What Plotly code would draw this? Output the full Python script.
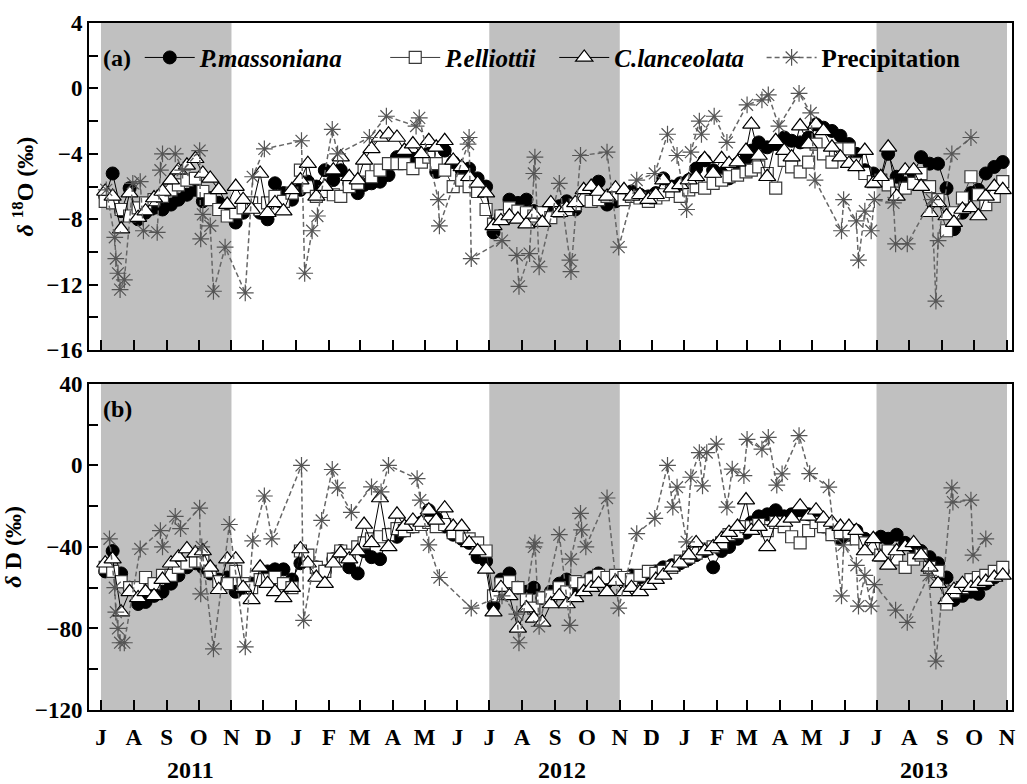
import plotly.graph_objects as go

# ---------------- data ----------------
tree_dates = [
    "2011-07-05","2011-07-12","2011-07-20","2011-07-28","2011-08-05","2011-08-12","2011-08-20","2011-08-28",
    "2011-09-05","2011-09-12","2011-09-20","2011-09-28","2011-10-05","2011-10-12","2011-10-20","2011-10-28",
    "2011-11-05","2011-11-12","2011-11-20","2011-11-28","2011-12-05","2011-12-12","2011-12-20","2011-12-28",
    "2012-01-05","2012-01-12","2012-01-20","2012-01-28","2012-02-05","2012-02-12","2012-02-20","2012-02-28",
    "2012-03-05","2012-03-12","2012-03-20","2012-03-28","2012-04-05","2012-04-12","2012-04-20","2012-04-28",
    "2012-05-05","2012-05-12","2012-05-20","2012-05-28","2012-06-05","2012-06-12","2012-06-20","2012-06-28",
    "2012-07-05","2012-07-12","2012-07-20","2012-07-28","2012-08-05","2012-08-12","2012-08-20","2012-08-28",
    "2012-09-05","2012-09-12","2012-09-20","2012-09-28","2012-10-05","2012-10-12","2012-10-20","2012-10-28",
    "2012-11-05","2012-11-12","2012-11-20","2012-11-28","2012-12-05","2012-12-12","2012-12-20","2012-12-28",
    "2013-01-05","2013-01-12","2013-01-20","2013-01-28","2013-02-05","2013-02-12","2013-02-20","2013-02-28",
    "2013-03-05","2013-03-12","2013-03-20","2013-03-28","2013-04-05","2013-04-12","2013-04-20","2013-04-28",
    "2013-05-05","2013-05-12","2013-05-20","2013-05-28","2013-06-05","2013-06-12","2013-06-20","2013-06-28",
    "2013-07-05","2013-07-12","2013-07-20","2013-07-28","2013-08-05","2013-08-12","2013-08-20","2013-08-28",
    "2013-09-05","2013-09-12","2013-09-20","2013-09-28","2013-10-05","2013-10-12","2013-10-20","2013-10-28",
]

o18_massoniana = [
    -6.6,-5.2,-7.5,-6.1, -8.0,-7.6,-7.3,-7.4, -7.1,-6.8,-6.5,-6.2, -6.9,-6.7,-7.0,-7.3,
    -8.2,-7.6,-7.2,-7.6, -8.0,-5.8,-6.4,-6.8, -6.2,-5.7,-6.0,-5.0, -5.6,-5.0,-5.8,-6.4,
    -5.9,-5.8,-5.7,-5.3, -4.2,-4.0,-4.3,-4.1, -4.0,-5.1,-3.8,-4.5, -5.0,-4.9,-5.5,-6.0,
    -8.8,-7.8,-6.8,-7.0, -6.8,-7.5,-7.6,-7.2, -7.2,-6.9,-7.4,-6.8, -6.4,-5.7,-7.1,-6.9,
    -6.6,-6.3,-6.5,-6.6, -6.4,-5.5,-6.0,-5.8, -5.6,-4.9,-4.4,-5.0, -5.2,-5.5,-4.6,-4.3,
    -3.8,-3.3,-3.6,-3.4, -3.0,-3.2,-3.3,-3.0, -2.2,-2.4,-2.6,-2.9, -3.4,-4.0,-5.0,-5.2,
    -5.6,-4.0,-5.4,-5.8, -5.2,-4.2,-4.6,-4.6, -6.1,-8.6,-7.6,-6.4, -6.2,-5.2,-4.8,-4.5,
]
o18_elliottii = [
    -6.9,-7.0,-7.4,-7.8, -7.3,-7.0,-6.8,-6.6, -6.2,-5.9,-5.6,-5.5, -6.3,-6.8,-7.4,-7.8,
    -7.6,-7.3,-7.0,-7.4, -7.0,-6.6,-6.9,-6.4, -5.0,-6.0,-6.6,-6.3, -6.5,-6.6,-6.0,-5.8,
    -5.0,-5.4,-5.0,-4.6, -4.6,-4.6,-4.9,-4.5, -4.2,-4.6,-5.0,-6.0, -5.6,-6.0,-6.3,-7.4,
    -8.3,-7.8,-7.3,-7.5, -7.6,-7.8,-7.6,-7.9, -7.5,-7.4,-7.1,-6.8, -6.9,-6.8,-6.6,-6.5,
    -6.8,-6.6,-6.7,-6.9, -6.7,-6.5,-6.3,-6.6, -6.2,-6.0,-6.1,-5.8, -5.6,-5.4,-5.3,-5.1,
    -5.0,-4.8,-5.2,-6.1, -4.4,-4.8,-5.1,-4.5, -3.4,-4.0,-4.5,-3.7, -3.7,-4.6,-5.2,-5.7,
    -5.6,-5.9,-6.4,-6.1, -5.8,-5.2,-6.0,-6.8, -8.7,-7.6,-6.7,-5.4, -6.5,-7.1,-6.6,-5.7,
]
o18_lanceolata = [
    -6.3,-6.6,-8.6,-6.4, -7.9,-7.5,-6.7,-6.3, -5.6,-5.0,-4.7,-4.3, -5.2,-5.5,-6.2,-7.1,
    -6.0,-6.8,-7.4,-5.2, -7.6,-7.0,-7.5,-6.2, -5.6,-4.6,-6.6,-6.0, -5.0,-4.2,-5.4,-5.6,
    -4.4,-3.7,-3.0,-2.8, -3.0,-3.8,-3.4,-4.0, -3.2,-3.6,-3.2,-4.4, -4.8,-5.4,-5.8,-6.4,
    -8.4,-8.1,-7.8,-8.0, -8.3,-7.7,-8.2,-7.0, -7.6,-7.3,-7.0,-6.2, -6.0,-6.3,-6.6,-6.1,
    -6.2,-6.6,-6.5,-6.8, -6.5,-5.6,-6.1,-5.9, -5.6,-5.4,-4.3,-5.2, -4.3,-4.6,-4.5,-3.8,
    -2.2,-4.1,-5.4,-3.2, -3.8,-4.2,-2.3,-3.4, -2.2,-2.6,-3.6,-4.2, -4.6,-4.8,-3.8,-5.8,
    -5.4,-3.6,-6.6,-5.0, -5.0,-6.0,-7.6,-7.0, -7.8,-8.2,-7.4,-7.3, -7.8,-6.6,-6.0,-6.2,
]

dD_massoniana = [
    -52,-42,-53,-60, -68,-67,-64,-62, -58,-54,-50,-48, -50,-53,-56,-55,
    -62,-60,-58,-56, -52,-51,-51,-56, -48,-46,-50,-52, -46,-42,-50,-53,
    -42,-45,-46,-34, -35,-32,-30,-28, -22,-26,-30,-34, -36,-38,-45,-47,
    -69,-56,-53,-60, -62,-60,-65,-62, -58,-56,-60,-58, -55,-53,-57,-55,
    -56,-54,-55,-53, -52,-50,-49,-48, -46,-44,-42,-50, -42,-40,-36,-33,
    -28,-25,-24,-22, -25,-24,-22,-24, -26,-30,-33,-36, -34,-32,-36,-38,
    -35,-36,-34,-38, -40,-42,-45,-48, -55,-66,-64,-62, -63,-58,-55,-52,
]
dD_elliottii = [
    -50,-52,-57,-60, -60,-55,-58,-54, -54,-50,-48,-47, -47,-52,-57,-58,
    -52,-58,-60,-56, -56,-55,-58,-60, -42,-44,-50,-52, -46,-42,-44,-40,
    -38,-36,-35,-34, -31,-32,-30,-29, -28,-30,-29,-33, -35,-36,-38,-42,
    -64,-58,-57,-60, -66,-70,-65,-64, -60,-62,-57,-58, -56,-54,-55,-54,
    -55,-56,-54,-52, -53,-52,-50,-47, -45,-43,-41,-40, -38,-34,-33,-30,
    -30,-29,-32,-28, -30,-35,-38,-32, -28,-30,-34,-33, -33,-36,-38,-40,
    -44,-42,-46,-50, -46,-44,-50,-52, -68,-62,-60,-56, -55,-54,-52,-50,
]
dD_lanceolata = [
    -48,-46,-72,-62, -65,-62,-64,-56, -48,-45,-41,-43, -42,-50,-61,-46,
    -46,-60,-66,-50, -58,-62,-65,-60, -41,-48,-55,-58, -48,-43,-46,-42,
    -29,-38,-16,-40, -24,-30,-27,-28, -22,-27,-21,-30, -30,-38,-42,-51,
    -72,-60,-64,-80, -70,-75,-77,-68, -64,-68,-65,-62, -60,-58,-62,-57,
    -62,-60,-62,-59, -56,-54,-50,-48, -44,-38,-42,-40, -36,-33,-30,-17,
    -32,-30,-40,-28, -28,-26,-20,-25, -22,-26,-28,-30, -30,-32,-42,-36,
    -45,-49,-42,-40, -38,-44,-50,-58, -66,-61,-58,-60, -58,-57,-55,-54,
]

o18_precip_dates = [
    "2011-07-06","2011-07-14","2011-07-15","2011-07-17","2011-07-19","2011-07-23","2011-07-31","2011-08-07",
    "2011-08-10","2011-08-23","2011-08-26","2011-08-28","2011-09-09","2011-09-16","2011-10-02","2011-10-03",
    "2011-10-05","2011-10-12","2011-10-15","2011-10-26","2011-11-14","2011-11-21","2011-12-02","2012-01-06",
    "2012-01-09","2012-01-16","2012-01-21","2012-02-04","2012-02-09","2012-03-10","2012-03-26","2012-04-23",
    "2012-04-26","2012-05-14","2012-05-15","2012-06-11","2012-06-12","2012-06-14","2012-07-13","2012-07-27",
    "2012-07-29","2012-08-08","2012-08-12","2012-08-13","2012-08-17","2012-09-05","2012-09-15","2012-09-16",
    "2012-09-25","2012-10-20","2012-10-31","2012-11-17","2012-12-04","2012-12-16","2012-12-25","2013-01-03",
    "2013-01-07","2013-01-15","2013-01-17","2013-01-29","2013-02-10","2013-03-01","2013-03-15","2013-03-21",
    "2013-03-31","2013-04-19","2013-04-30","2013-05-04","2013-05-29","2013-05-31","2013-06-12","2013-06-14",
    "2013-06-20","2013-06-26","2013-06-29","2013-07-17","2013-07-19","2013-07-30","2013-08-22","2013-08-26",
    "2013-08-28","2013-09-10","2013-09-28",
]
o18_precip = [
    -6.2,-9.1,-10.4,-11.3,-12.3,-11.7,-5.8,-5.7,
    -8.7,-8.8,-5.0,-4.0,-4.0,-5.0,-3.8,-9.2,
    -7.7,-8.4,-12.4,-9.7,-12.5,-5.4,-3.7,-3.2,
    -11.3,-8.7,-7.8,-2.5,-4.0,-3.0,-1.7,-2.3,
    -1.8,-6.8,-8.4,-3.4,-3.0,-10.4,-9.3,-10.2,
    -12.1,-10.1,-5.2,-4.2,-10.9,-5.8,-10.5,-11.2,
    -4.1,-3.9,-9.7,-5.6,-5.2,-2.8,-4.1,-7.4,
    -3.9,-2.0,-2.8,-1.7,-3.3,-1.0,-0.7,-0.4,
    -2.3,-0.3,-1.5,-5.6,-8.7,-6.8,-8.1,-10.5,
    -7.5,-8.7,-6.8,-7.0,-9.5,-9.5,-6.8,-13.0,
    -9.3,-4.0,-3.0,
]

dD_precip_dates = [
    "2011-07-09","2011-07-14","2011-07-15","2011-07-17","2011-07-19","2011-07-23","2011-08-07","2011-08-26",
    "2011-08-28","2011-09-09","2011-09-14","2011-10-02","2011-10-03","2011-10-04","2011-10-15","2011-10-30",
    "2011-11-14","2011-11-21","2011-12-02","2011-12-09","2012-01-06","2012-01-08","2012-01-25","2012-02-04",
    "2012-02-09","2012-02-22","2012-03-12","2012-03-21","2012-03-28","2012-04-24","2012-04-27","2012-05-05",
    "2012-05-15","2012-06-14","2012-07-13","2012-07-27","2012-07-29","2012-08-12","2012-08-13","2012-08-17",
    "2012-09-05","2012-09-15","2012-09-16","2012-09-25","2012-09-26","2012-09-30","2012-10-20","2012-10-31",
    "2012-11-17","2012-12-04","2012-12-16","2012-12-21","2012-12-25","2013-01-03","2013-01-07","2013-01-15",
    "2013-01-18","2013-01-22","2013-01-31","2013-02-10","2013-02-15","2013-02-26","2013-03-01","2013-03-15",
    "2013-03-21","2013-03-29","2013-04-03","2013-04-19","2013-04-29","2013-05-17","2013-05-29","2013-05-31",
    "2013-06-12","2013-06-14","2013-06-20","2013-06-26","2013-06-29","2013-07-19","2013-07-30","2013-08-19",
    "2013-08-26","2013-09-10","2013-09-11","2013-09-28","2013-09-30","2013-10-12",
]
dD_precip = [
    -36,-60,-72,-80,-87,-87,-41,-32,
    -40,-25,-31,-21,-63,-40,-90,-29,
    -89,-37,-15,-36,0,-76,-27,-2,
    -11,-23,-10.5,-13,0,-6.5,-17,-39,
    -55,-70,-64,-73,-87,-40,-38,-79,
    -34,-78.5,-46,-23.5,-31.6,-40,-16,-70,
    -33.5,-26,0,-20.5,-10.7,-37.5,-5.8,6.3,
    -10,6.3,10.4,-20.5,-1.8,-5,12.8,8,
    13.8,-9.7,-4.2,14.6,-4,-10.7,-64,-39,
    -49,-69,-54,-69,-58.5,-71,-77,-54,
    -96,-11,-18,-17,-44,-36,
]

month_ticks = [
    "2011-07-01","2011-08-01","2011-09-01","2011-10-01","2011-11-01","2011-12-01","2012-01-01","2012-02-01",
    "2012-03-01","2012-04-01","2012-05-01","2012-06-01","2012-07-01","2012-08-01","2012-09-01","2012-10-01",
    "2012-11-01","2012-12-01","2013-01-01","2013-02-01","2013-03-01","2013-04-01","2013-05-01","2013-06-01",
    "2013-07-01","2013-08-01","2013-09-01","2013-10-01","2013-11-01",
]
month_labels = ["J","A","S","O","N","D","J","F","M","A","M","J","J","A","S","O","N",
                "D","J","F","M","A","M","J","J","A","S","O","N"]
gray_periods = [("2011-07-01","2011-11-01"),("2012-07-01","2012-11-01"),("2013-07-01","2013-11-01")]
year_labels = ["2011","2012","2013"]
year_positions = ["2011-09-23","2012-09-08","2013-08-15"]
series_names = ["P.massoniana", "P.elliottii", "C.lanceolata", "Precipitation"]

# ---------------- figure ----------------
FONT = "Liberation Serif"
NB = "\u00a0"
fig = go.Figure()

legend_names = [
    "<b><i>" + series_names[0] + "</i></b>" + NB * 6,
    "<b><i>" + series_names[1] + "</i></b>" + NB * 2,
    "<b><i>" + series_names[2] + "</i></b>" + NB * 2,
    "<b>" + series_names[3] + "</b>",
]

series = [
    (legend_names[0], o18_massoniana, dD_massoniana,
     dict(symbol="circle", size=13, color="black", line=dict(color="black", width=1)), "black"),
    (legend_names[1], o18_elliottii, dD_elliottii,
     dict(symbol="square", size=12, color="white", line=dict(color="#3a3a3a", width=1.2)), "#3a3a3a"),
    (legend_names[2], o18_lanceolata, dD_lanceolata,
     dict(symbol="triangle-up", size=15, color="white", line=dict(color="black", width=1.2)), "black"),
]
for name, yo, yd, mk, lc in series:
    fig.add_trace(go.Scatter(x=tree_dates, y=yo, name=name, mode="lines+markers",
                             marker=mk, line=dict(color=lc, width=1), xaxis="x", yaxis="y",
                             legendgroup=name))
    fig.add_trace(go.Scatter(x=tree_dates, y=yd, name=name, mode="lines+markers",
                             marker=mk, line=dict(color=lc, width=1), xaxis="x2", yaxis="y2",
                             showlegend=False, legendgroup=name))

pmk = dict(symbol="asterisk-open", size=14, color="#555555", line=dict(color="#555555", width=1.2))
pln = dict(color="#666666", width=1.5, dash="5px,3px")
fig.add_trace(go.Scatter(x=o18_precip_dates, y=o18_precip, name=legend_names[3],
                         mode="lines+markers", marker=pmk, line=pln, xaxis="x", yaxis="y",
                         legendgroup="p"))
fig.add_trace(go.Scatter(x=dD_precip_dates, y=dD_precip, name=legend_names[3],
                         mode="lines+markers", marker=pmk, line=pln, xaxis="x2", yaxis="y2",
                         showlegend=False, legendgroup="p"))

shapes = []
for a, b in gray_periods:
    for xr, yr in (("x", "y domain"), ("x2", "y2 domain")):
        shapes.append(dict(type="rect", xref=xr, yref=yr, x0=a, x1=b, y0=0, y1=1,
                           fillcolor="#c0c0c0", line=dict(width=0), layer="below"))

xrange = ["2011-06-19 17:00", "2013-11-05 17:00"]
tickfont = dict(family=FONT, size=23, color="black", weight="bold")
common_x = dict(type="date", range=xrange, tickmode="array", tickvals=month_ticks,
                ticks="inside", ticklen=10, tickwidth=2, tickcolor="black",
                showline=True, linecolor="black", linewidth=2, mirror=True,
                showgrid=False, zeroline=False)
common_y = dict(ticks="inside", ticklen=9, tickwidth=2, tickcolor="black",
                showline=True, linecolor="black", linewidth=2, mirror=True,
                showgrid=False, zeroline=False, tickfont=tickfont)

annotations = [
    dict(text="<b>(a)</b>", x=0.013, y=0.9495, xref="paper", yref="paper", xanchor="left",
         yanchor="middle", showarrow=False, font=dict(family=FONT, size=24, color="black")),
    dict(text="<b>(b)</b>", x=0.013, y=0.4387, xref="paper", yref="paper", xanchor="left",
         yanchor="middle", showarrow=False, font=dict(family=FONT, size=24, color="black")),
]
for lab, pos in zip(year_labels, year_positions):
    annotations.append(dict(text="<b>" + lab + "</b>", x=pos, y=-0.087, xref="x2", yref="paper",
                            xanchor="center", yanchor="middle", showarrow=False,
                            font=dict(family=FONT, size=24, color="black")))

fig.update_layout(
    width=1027, height=784,
    margin=dict(l=89, r=11, t=17, b=74),
    paper_bgcolor="white", plot_bgcolor="white",
    font=dict(family=FONT, color="black"),
    xaxis=dict(domain=[0, 1], anchor="y", showticklabels=False, **common_x),
    xaxis2=dict(domain=[0, 1], anchor="y2", ticktext=month_labels, tickfont=tickfont,
                ticklabelstandoff=5, **common_x),
    yaxis=dict(domain=[0.5238, 1], anchor="x", range=[-16, 4], tickvals=[-16, -12, -8, -4, 0, 4],
               minor=dict(tickvals=[-14, -10, -6, -2, 2], ticks="inside", ticklen=9, tickwidth=2,
                          tickcolor="black"),
               title=dict(text="<b><i>δ</i> <sup>18</sup>O (‰)</b>",
                          font=dict(family=FONT, size=24, color="black"), standoff=6),
               **common_y),
    yaxis2=dict(domain=[0, 0.4747], anchor="x2", range=[-120, 40], tickvals=[-120, -80, -40, 0, 40],
                minor=dict(tickvals=[-100, -60, -20, 20], ticks="inside", ticklen=9, tickwidth=2,
                           tickcolor="black"),
                title=dict(text="<b><i>δ</i> D (‰)</b>",
                           font=dict(family=FONT, size=24, color="black"), standoff=6),
                **common_y),
    shapes=shapes,
    annotations=annotations,
    showlegend=True,
    legend=dict(orientation="h", x=0.055, y=0.9495, xanchor="left", yanchor="middle",
                bgcolor="rgba(0,0,0,0)", font=dict(family=FONT, size=25, color="black"),
                itemwidth=50, tracegroupgap=0),
)

fig.write_html("out.html")
